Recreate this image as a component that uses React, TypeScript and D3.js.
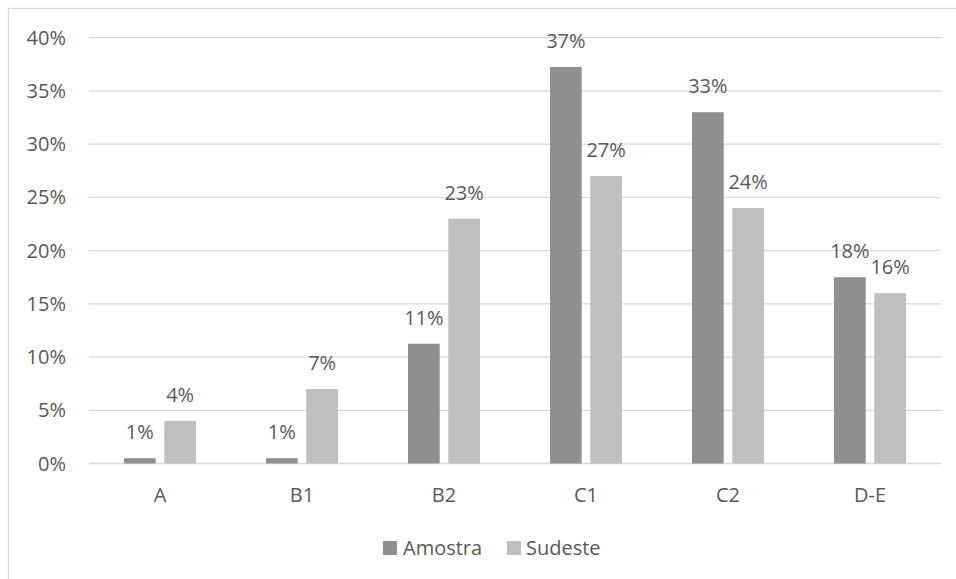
import React from "react";
import * as d3 from "d3";

// Income class distribution: sample vs. Southeast region
const categories = ["A", "B1", "B2", "C1", "C2", "D-E"];
const seriesNames = ["Amostra", "Sudeste"];
const amostra = [0.5, 0.5, 11.25, 37.25, 33.0, 17.5];
const sudeste = [4.0, 7.0, 23.0, 27.0, 24.0, 16.0];
const yTicks = [0, 5, 10, 15, 20, 25, 30, 35, 40];

const colors = ["#8f8f8f", "#bfbfbf"];
const textColor = "#595959";
const gridColor = "#d9d9d9";
const font = "'Open Sans', 'Noto Sans', sans-serif";
const fs = 20;

const W = 956;
const H = 579;

export default function App() {
  const x0 = d3.scaleBand<string>().domain(categories).range([89, 941]).padding(0);
  const y = d3.scaleLinear().domain([0, 40]).range([463.5, 37.7]);
  const groupHalf = 36;
  const x1 = d3
    .scaleBand<string>()
    .domain(seriesNames)
    .range([-groupHalf, groupHalf])
    .paddingInner(0.213)
    .paddingOuter(0);
  const values = [amostra, sudeste];
  const fmt = (v: number) => `${Math.round(v)}%`;

  return (
    <svg
      width={W}
      height={H}
      style={{ position: "absolute", left: 0, top: 0, background: "#fff" }}
      fontFamily={font}
    >
      <rect x={0} y={0} width={W} height={H} fill="#fff" />
      {/* chart frame */}
      <rect x={8.5} y={8.5} width={1200} height={1200} fill="none" stroke={gridColor} strokeWidth={1.3} />

      {/* gridlines and y labels */}
      {yTicks.map((t) => (
        <g key={t}>
          <line x1={89} x2={941} y1={y(t)} y2={y(t)} stroke={gridColor} strokeWidth={1.3} />
          <text x={66} y={y(t) + 7} textAnchor="end" fontSize={fs} fill={textColor}>
            {`${t}%`}
          </text>
        </g>
      ))}

      {/* bars */}
      {categories.map((c, i) => {
        const cx = (x0(c) ?? 0) + x0.bandwidth() / 2;
        return (
          <g key={c}>
            {seriesNames.map((s, j) => {
              const v = values[j][i];
              const bx = cx + (x1(s) ?? 0);
              const bw = x1.bandwidth();
              return (
                <g key={s}>
                  <rect x={bx} y={y(v)} width={bw} height={y(0) - y(v)} fill={colors[j]} />
                  <text
                    x={bx + bw / 2}
                    y={y(v) - 19}
                    textAnchor="middle"
                    fontSize={fs}
                    fill={textColor}
                  >
                    {fmt(v)}
                  </text>
                </g>
              );
            })}
            <text x={cx} y={502} textAnchor="middle" fontSize={fs} fill={textColor}>
              {c}
            </text>
          </g>
        );
      })}

      {/* legend */}
      <g>
        <rect x={383} y={541} width={14} height={14} fill={colors[0]} />
        <text x={403} y={554.5} fontSize={fs} fill={textColor}>
          {seriesNames[0]}
        </text>
        <rect x={507} y={541} width={14} height={14} fill={colors[1]} />
        <text x={526} y={554.5} fontSize={fs} fill={textColor}>
          {seriesNames[1]}
        </text>
      </g>
    </svg>
  );
}
